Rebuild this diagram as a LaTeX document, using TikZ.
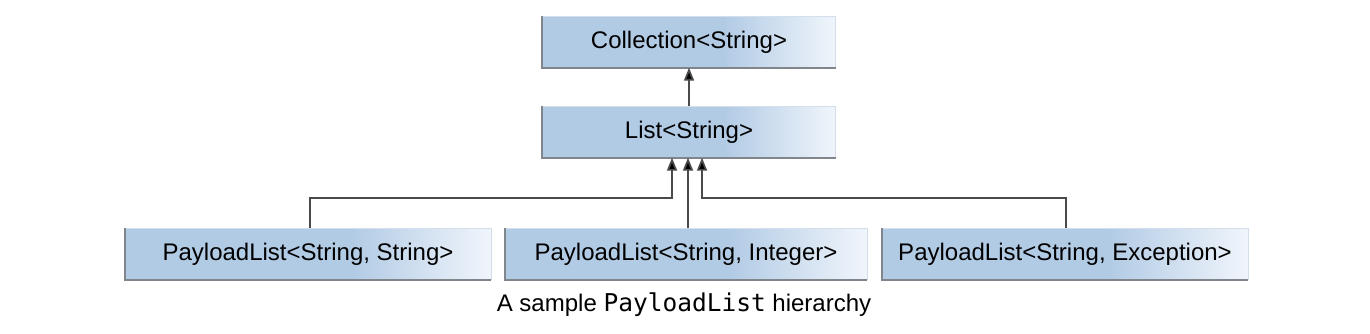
\documentclass[tikz,border=0pt]{standalone}
\usepackage{fontspec}
\setmainfont{Liberation Sans}
\setmonofont{DejaVu Sans Mono}
\usetikzlibrary{arrows.meta}
\definecolor{boxblue}{HTML}{B2CBE5}
\definecolor{boxlight}{HTML}{F0F5FB}
\definecolor{edgedark}{HTML}{80868C}
\definecolor{edgelight}{HTML}{D3DFEC}
\definecolor{linegray}{HTML}{4A4A4A}
\pgfdeclarehorizontalshading{boxshade}{100bp}{color(0bp)=(boxblue); color(25bp)=(boxblue); color(56bp)=(boxblue); color(75bp)=(boxlight); color(100bp)=(boxlight)}
\tikzset{
  classbox/.style={minimum height=51pt, inner sep=0pt, font=\fontsize{24}{28}\selectfont,
    text=black, shading=boxshade, shading angle=0},
  edgeD/.style={draw=edgedark, line width=2pt},
  edgeL/.style={draw=edgelight, line width=1.2pt},
  conn/.style={draw=linegray, line width=1.7pt},
  inh/.style={conn, -{Triangle[length=13pt, width=10pt, fill=black]}}
}
\begin{document}
\begin{tikzpicture}[x=1pt, y=-1pt]
\useasboundingbox (0,0) rectangle (1370,334);
\node[classbox, minimum width=293pt] (coll) at (689,42) {Collection<String>};
\node[classbox, minimum width=293pt] (list) at (689,132) {List<String>};
\node[classbox, minimum width=366pt] (p1) at (308,254) {PayloadList<String, String>};
\node[classbox, minimum width=362pt] (p2) at (686,254) {PayloadList<String, Integer>};
\node[classbox, minimum width=366pt] (p3) at (1065,254) {PayloadList<String, Exception>};
\foreach \n in {coll,list,p1,p2,p3}{
  \draw[edgeL] (\n.north west) -- (\n.north east) -- (\n.south east);
  \draw[edgeD] (\n.north west) -- (\n.south west) -- (\n.south east);
}
\draw[inh] (list.north) -- (coll.south);
\draw[inh] (p1.north -| 310,0) |- (672,198) -- (list.south -| 672,0);
\draw[inh] (p2.north -| 688,0) -- (list.south -| 688,0);
\draw[inh] (p3.north -| 1066,0) |- (702,198) -- (list.south -| 702,0);
\node[font=\fontsize{24}{28}\selectfont, inner sep=0pt] (cap) at (684,305)
  {A sample {\fontsize{24.5}{28}\selectfont\ttfamily PayloadList} hierarchy};
\end{tikzpicture}
\end{document}
